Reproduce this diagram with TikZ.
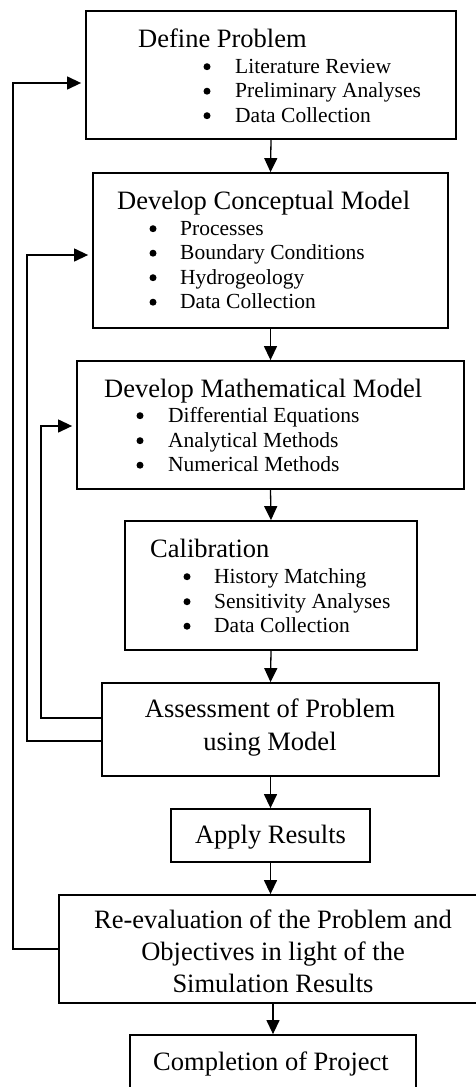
\documentclass[tikz,border=0pt]{standalone}
\usepackage{fontspec}
\setmainfont{Liberation Serif}
\usetikzlibrary{arrows.meta}
\begin{document}
\begin{tikzpicture}[x=1pt,y=-1pt,
  box/.style={draw, line width=1.8pt, inner sep=0pt, rectangle},
  ttl/.style={anchor=base west, inner sep=0pt, font=\fontsize{26.5}{31.5}\selectfont},
  cttl/.style={anchor=base, inner sep=0pt, font=\fontsize{26.5}{31.5}\selectfont},
  itm/.style={anchor=base west, inner sep=0pt, font=\fontsize{21.5}{24.5}\selectfont},
  dot/.style={circle, fill, inner sep=0pt, minimum size=7pt, yshift=6.3pt},
  arr/.style={line width=1.3pt, -{Triangle[length=14pt,width=13pt]}},
  fb/.style={line width=1.3pt, -{Triangle[length=14pt,width=13pt]}, shorten >=4pt}
]
\useasboundingbox (0,0) rectangle (476,1087);
\clip (0,0) rectangle (476,1087);

% boxes
\node[box, minimum width=370pt, minimum height=128pt] (b1) at (271,75) {};
\node[box, minimum width=355pt, minimum height=155pt] (b2) at (270.5,250.5) {};
\node[box, minimum width=387pt, minimum height=128pt] (b3) at (270.5,425) {};
\node[box, minimum width=292pt, minimum height=129pt] (b4) at (271,585.5) {};
\node[box, minimum width=337pt, minimum height=93pt] (b5) at (270.5,729.5) {};
\node[box, minimum width=199pt, minimum height=53pt] (b6) at (270.5,835.5) {};
\node[box, minimum width=420pt, minimum height=108pt] (b7) at (269,949) {};
\node[box, minimum width=286pt, minimum height=64pt] (b8) at (273,1067) {};

% box 1
\node[ttl] (t1) at (138,47) {Define Problem};
\node[dot] (d11) at (207,73) {};
\node[itm] (i11) at (235,73) {Literature Review};
\node[dot] (d12) at (207,97.5) {};
\node[itm] (i12) at (235,97.5) {Preliminary Analyses};
\node[dot] (d13) at (207,122) {};
\node[itm] (i13) at (235,122) {Data Collection};

% box 2
\node[ttl] (t2) at (117,209) {Develop Conceptual Model};
\node[dot] (d21) at (153,235) {};
\node[itm] (i21) at (180,235) {Processes};
\node[dot] (d22) at (153,259.5) {};
\node[itm] (i22) at (180,259.5) {Boundary Conditions};
\node[dot] (d23) at (153,284) {};
\node[itm] (i23) at (180,284) {Hydrogeology};
\node[dot] (d24) at (153,308.5) {};
\node[itm] (i24) at (180,308.5) {Data Collection};

% box 3
\node[ttl] (t3) at (104,397) {Develop Mathematical Model};
\node[dot] (d31) at (140,422) {};
\node[itm] (i31) at (168,422) {Differential Equations};
\node[dot] (d32) at (140,447) {};
\node[itm] (i32) at (168,447) {Analytical Methods};
\node[dot] (d33) at (140,471.5) {};
\node[itm] (i33) at (168,471.5) {Numerical Methods};

% box 4
\node[ttl] (t4) at (150,557) {Calibration};
\node[dot] (d41) at (187,583) {};
\node[itm] (i41) at (214,583) {History Matching};
\node[dot] (d42) at (187,608) {};
\node[itm] (i42) at (214,608) {Sensitivity Analyses};
\node[dot] (d43) at (187,632.5) {};
\node[itm] (i43) at (214,632.5) {Data Collection};

% box 5
\node[cttl] (t5a) at (270,717) {Assessment of Problem};
\node[cttl] (t5b) at (270,750) {using Model};

% box 6
\node[cttl] (t6) at (270.5,843) {Apply Results};

% box 7
\node[cttl] (t7a) at (273,928) {Re-evaluation of the Problem and};
\node[cttl] (t7b) at (273,960) {Objectives in light of the};
\node[cttl] (t7c) at (273,992) {Simulation Results};

% box 8
\node[cttl] (t8) at (271,1070) {Completion of Project};

% main flow
\draw[arr] (b1.south) -- (b2.north);
\draw[arr] (b2.south) -- (b3.north);
\draw[arr] (b3.south) -- (b4.north);
\draw[arr] (b4.south) -- (b5.north);
\draw[arr] (b5.south) -- (b6.north);
\draw[arr] (b6.south) -- (b6.south |- b7.north);
\draw[arr] (b8.north |- b7.south) -- (b8.north);

% feedback loops
\coordinate (f1) at (13,83);
\coordinate (f2) at (27,255);
\coordinate (f2s) at (102,741);
\coordinate (f3) at (41,426);
\coordinate (f3s) at (102,718);
\draw[fb] (b7.west) -| (f1) -- (b1.west |- f1);
\draw[fb] (f2s) -| (f2) -- (b2.west |- f2);
\draw[fb] (f3s) -| (f3) -- (b3.west |- f3);
\end{tikzpicture}
\end{document}
